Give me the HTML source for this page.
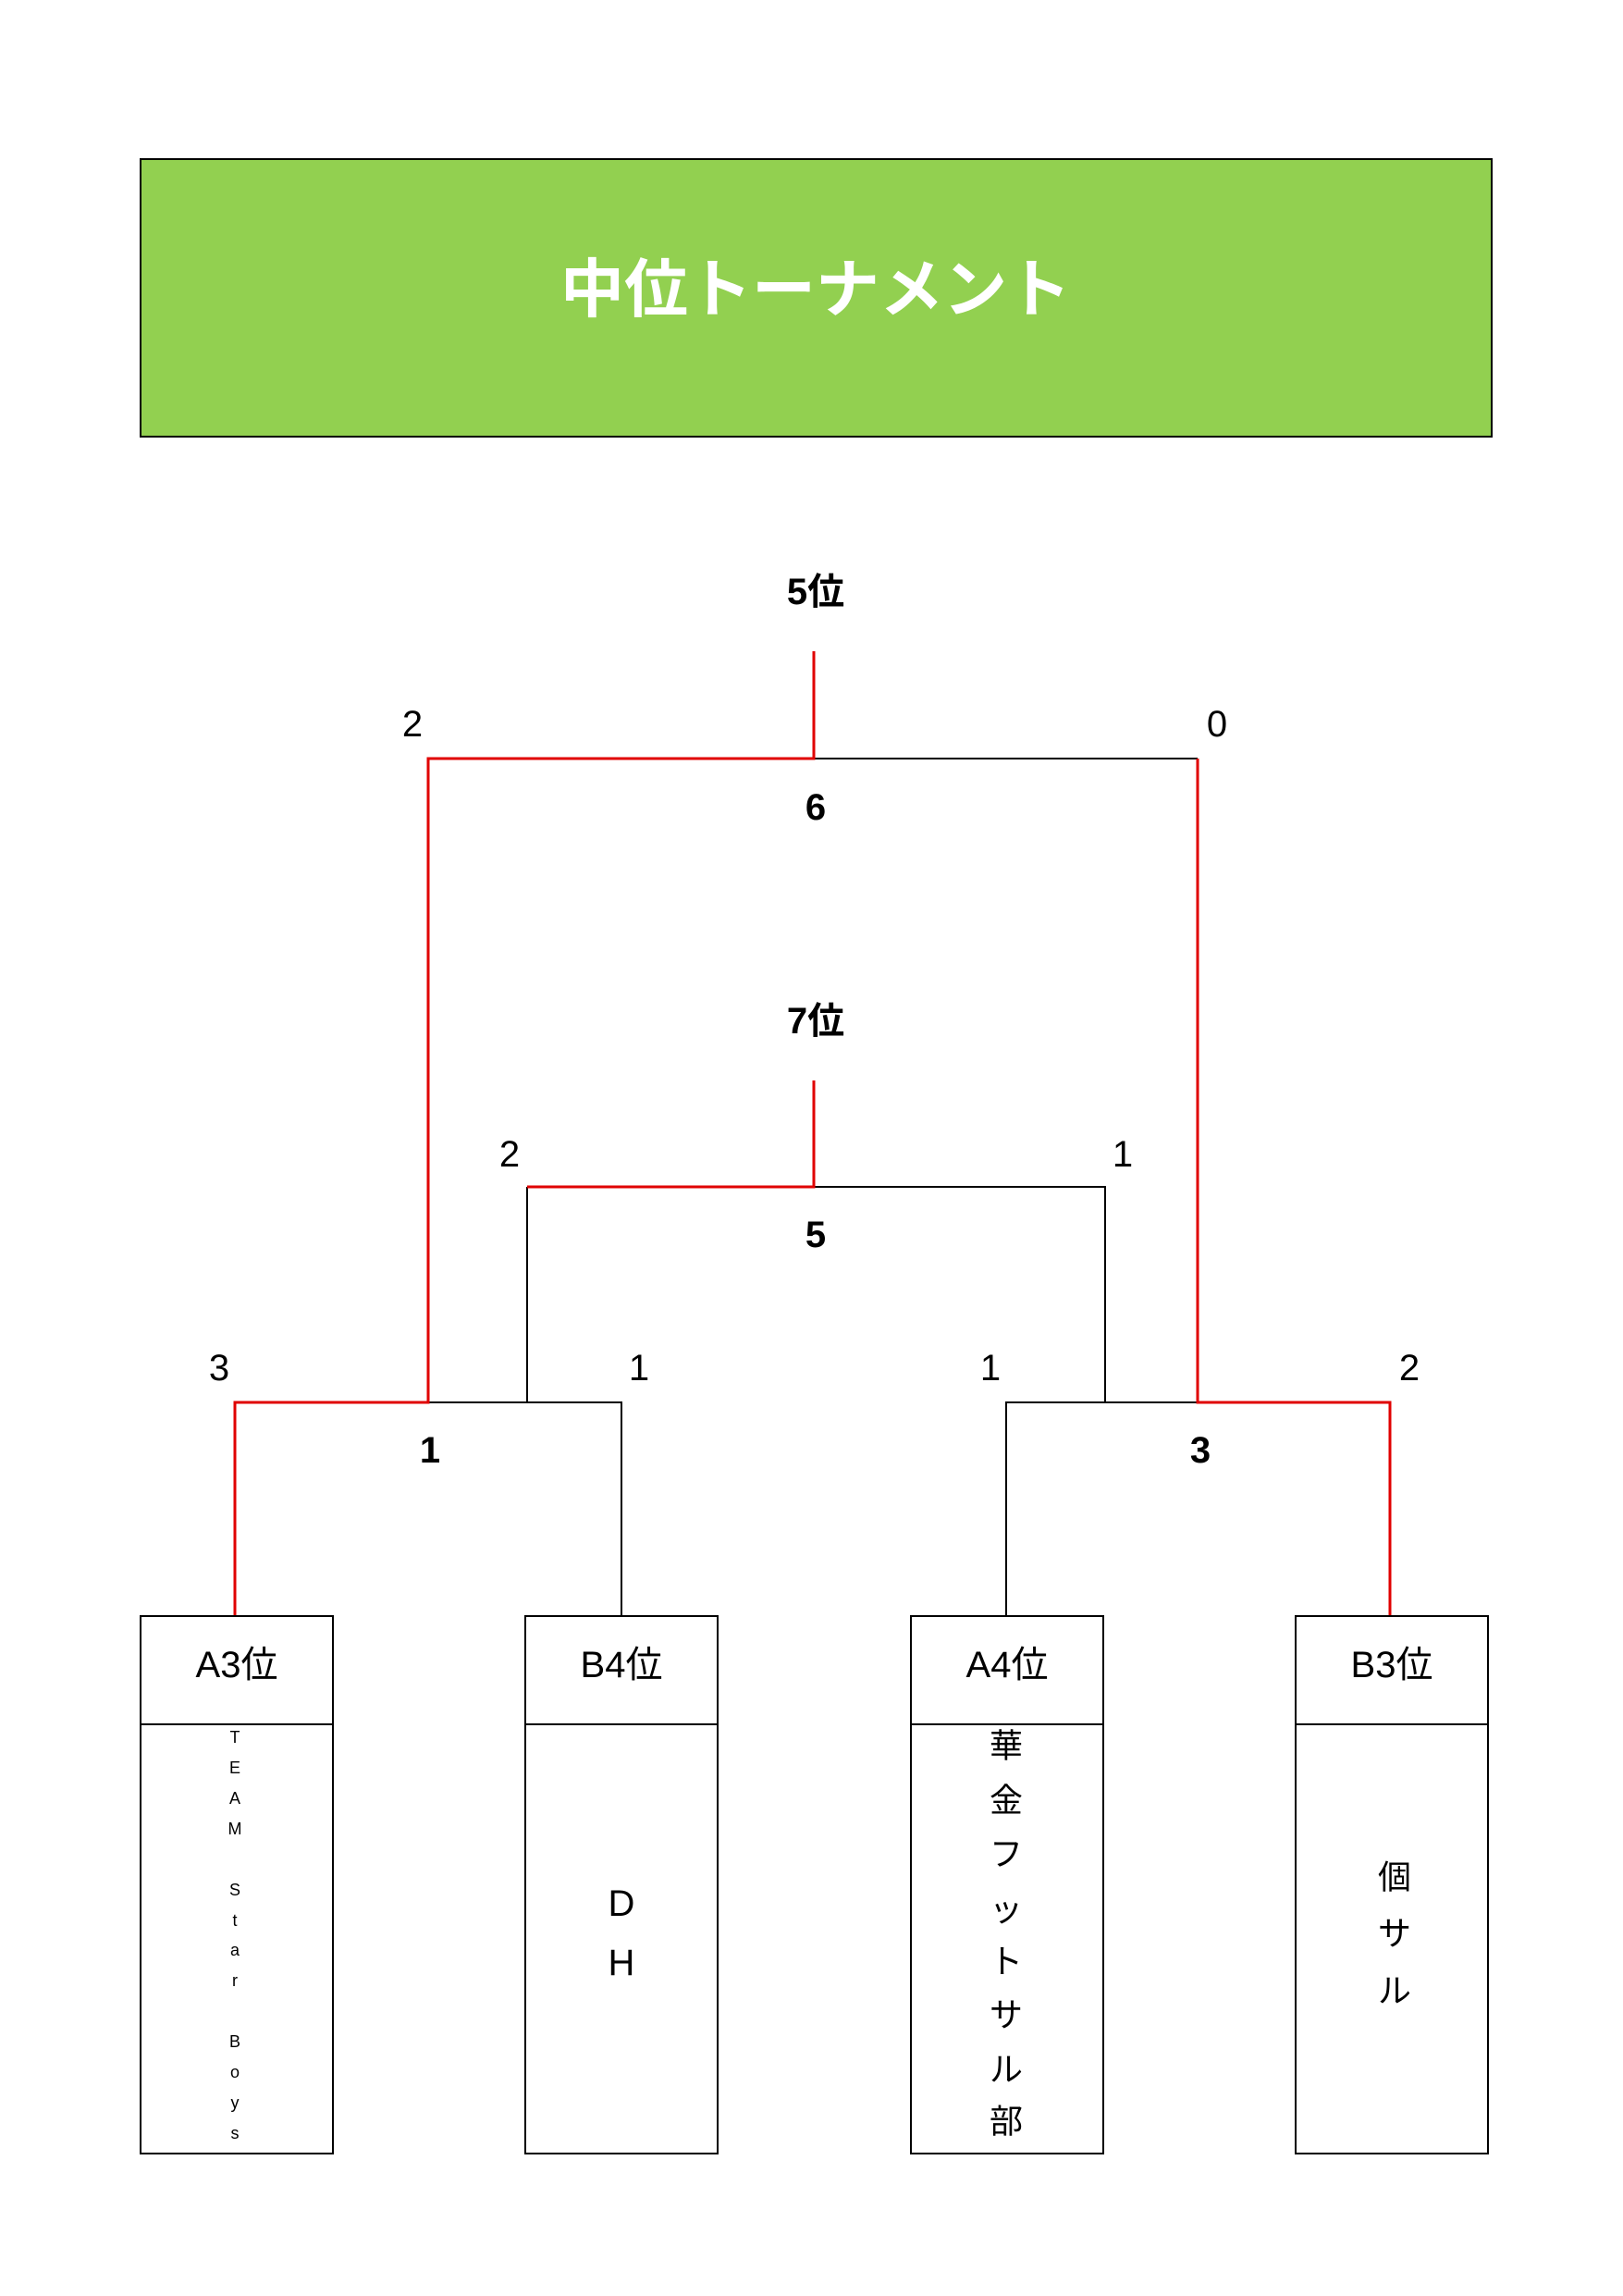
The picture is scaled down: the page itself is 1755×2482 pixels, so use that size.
<!DOCTYPE html>
<html><head><meta charset="utf-8"><style>
html,body{margin:0;padding:0;background:#fff}
svg{display:block}
text{font-family:"Liberation Sans","Noto Sans CJK JP",sans-serif;text-anchor:middle;dominant-baseline:central}
.b{font-weight:bold}
</style></head><body>
<svg width="1755" height="2482" viewBox="0 0 1755 2482" xmlns="http://www.w3.org/2000/svg">
<rect x="152" y="172" width="1461" height="300" fill="#92d050" stroke="#000" stroke-width="2"/>
<text x="882" y="313" font-size="69" class="b" fill="#fff">中位トーナメント</text>

<text x="882" y="640" font-size="40" class="b">5位</text>
<text x="882" y="1104" font-size="40" class="b">7位</text>
<text x="882" y="873" font-size="40" class="b">6</text>
<text x="882" y="1335" font-size="40" class="b">5</text>
<text x="465" y="1568" font-size="40" class="b">1</text>
<text x="1298" y="1568" font-size="40" class="b">3</text>

<g font-size="40">
<text x="446" y="783">2</text>
<text x="1316" y="783">0</text>
<text x="551" y="1248">2</text>
<text x="1214" y="1248">1</text>
<text x="237" y="1479">3</text>
<text x="691" y="1479">1</text>
<text x="1071" y="1479">1</text>
<text x="1524" y="1479">2</text>
</g>

<g stroke="#000" stroke-width="2" fill="none">
<path d="M880 820 H1295"/>
<path d="M880 1283 H1195 V1516"/>
<path d="M570 1283 V1516"/>
<path d="M463 1516 H672 V1747"/>
<path d="M1088 1747 V1516 H1295"/>
</g>
<g stroke="#e00000" stroke-width="3" fill="none">
<path d="M880 704 V820 H463 V1516 H254 V1747"/>
<path d="M880 1168 V1283 H570"/>
<path d="M1295 820 V1516 H1503 V1747"/>
</g>

<g stroke="#000" stroke-width="2" fill="#fff">
<rect x="152" y="1747" width="208" height="581"/>
<rect x="568" y="1747" width="208" height="581"/>
<rect x="985" y="1747" width="208" height="581"/>
<rect x="1401" y="1747" width="208" height="581"/>
<path d="M152 1864 H360 M568 1864 H776 M985 1864 H1193 M1401 1864 H1609"/>
</g>
<g font-size="40">
<text x="256" y="1800">A3位</text>
<text x="672" y="1800">B4位</text>
<text x="1089" y="1800">A4位</text>
<text x="1505" y="1800">B3位</text>
</g>
<g font-size="18">
<text x="254" y="1878">T</text><text x="254" y="1911">E</text><text x="254" y="1944">A</text><text x="254" y="1977">M</text>
<text x="254" y="2043">S</text><text x="254" y="2076">t</text><text x="254" y="2108">a</text><text x="254" y="2141">r</text>
<text x="254" y="2207">B</text><text x="254" y="2240">o</text><text x="254" y="2273">y</text><text x="254" y="2306">s</text>
</g>
<g font-size="40">
<text x="672" y="2058">D</text><text x="672" y="2122">H</text>
</g>
<g font-size="36">
<text x="1088" y="1887">華</text><text x="1088" y="1946">金</text><text x="1088" y="2004">フ</text><text x="1088" y="2064">ッ</text>
<text x="1088" y="2120">ト</text><text x="1088" y="2178">サ</text><text x="1088" y="2237">ル</text><text x="1088" y="2293">部</text>
<text x="1508" y="2029">個</text><text x="1508" y="2090">サ</text><text x="1508" y="2152">ル</text>
</g>
</svg>
</body></html>
